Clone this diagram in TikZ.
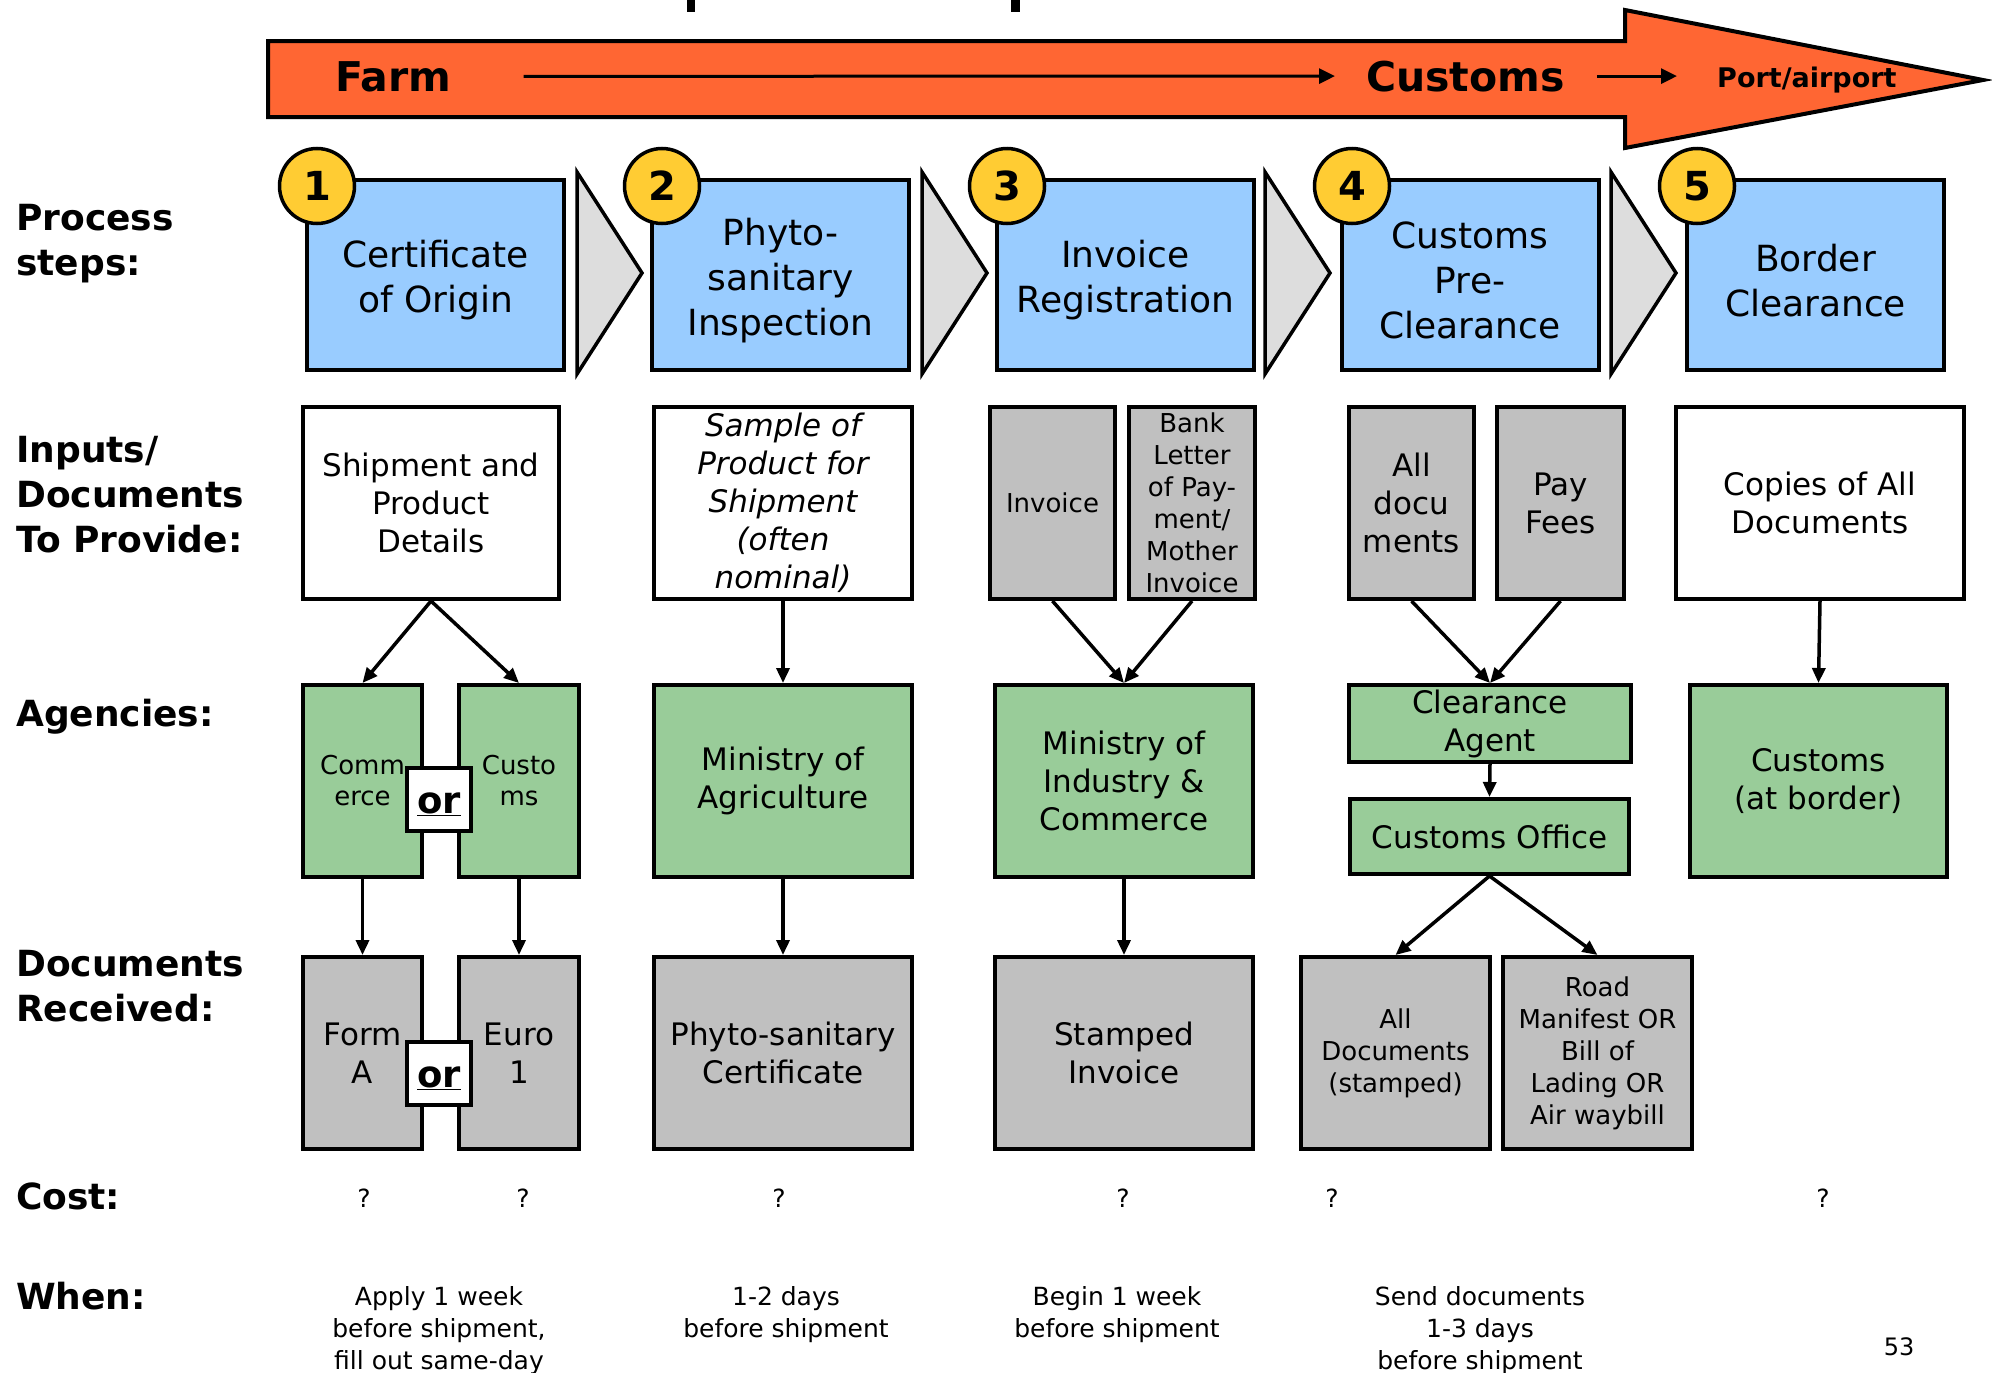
\documentclass[tikz,border=0pt]{standalone}
\usepackage{fontspec}
\setmainfont{DejaVu Sans}
\usetikzlibrary{arrows.meta,calc}

\definecolor{flowred}{HTML}{FF6633}
\definecolor{stepblue}{HTML}{99CCFF}
\definecolor{agencygreen}{HTML}{99CC99}
\definecolor{docgrey}{HTML}{C0C0C0}
\definecolor{chevgrey}{HTML}{DDDDDD}
\definecolor{dotyellow}{HTML}{FFCC33}

% font size and line skip in one go
\newcommand{\px}[2]{\fontsize{#1}{#2}\selectfont}
% taller first line, pushes the step text a little down
\newcommand{\stepgap}{\rule{0pt}{39pt}}

\tikzset{
  cell/.style={draw, line width=4pt, inner sep=0pt, align=center, minimum height=192pt},
  stepbox/.style={cell, fill=stepblue, minimum width=257pt, minimum height=190pt, font=\px{36}{45}},
  inbox/.style={cell, fill=white, font=\px{31}{38}},
  docbox/.style={cell, fill=docgrey, font=\px{31}{38}},
  agency/.style={cell, fill=agencygreen, font=\px{31}{38}},
  orbox/.style={cell, fill=white, minimum width=64pt, minimum height=63pt, font=\bfseries\px{37}{37},
    text height=30pt, text depth=2pt},
  numdot/.style={circle, draw, line width=3.5pt, fill=dotyellow, minimum size=75pt, inner sep=0pt, font=\bfseries\px{40}{40}},
  chevron/.style={draw, line width=3.5pt, fill=chevgrey},
  rowlabel/.style={anchor=west, align=left, inner sep=0pt, font=\bfseries\px{36}{45}},
  flowtxt/.style={inner sep=0pt, anchor=base west, font=\bfseries\px{41}{41}},
  flowline/.style={line width=3pt, -{Triangle[length=16pt,width=15pt]}},
  note/.style={inner sep=0pt, align=center, font=\px{25}{32}},
  link/.style={line width=3.5pt, -{Triangle[length=15pt,width=13pt]}},
}

\begin{document}
\begin{tikzpicture}[x=1pt,y=-1pt]
\useasboundingbox (0,0) rectangle (1992,1373);

% bits of the heading that reach into the page
\fill (687,0) rectangle (695,12);
\fill (1011,0) rectangle (1020,12);

% route arrow across the top
\draw[line width=4pt, fill=flowred] (268,41) -- (1625,41) -- (1625,10) -- (1983,80)
  -- (1625,148) -- (1625,117) -- (268,117) -- cycle;
\node[flowtxt] (farm) at (335,91) {Farm};
\node[flowtxt] (customs) at (1366,91) {Customs};
\node[flowtxt, font=\bfseries\px{27}{27}] (port) at (1717,87) {Port/airport};
\draw[flowline] ([xshift=72pt]farm.east) -- ([xshift=-31pt]customs.west);
\draw[flowline] ([xshift=32pt]customs.east) -- ([xshift=-40pt]customs.east -| port.west);

% row headings
\node[rowlabel] (lstep) at (16,244) {Process\\steps:};
\node[rowlabel] (linput) at (16,495) {Inputs/\\Documents\\To Provide:};
\node[rowlabel] (lagency) at (16,717) {Agencies:};
\node[rowlabel] (lrecv) at (16,986) {Documents\\Received:};
\node[rowlabel] (lcost) at (16,1196) {Cost:};
\node[rowlabel] (lwhen) at (16,1296) {When:};

% process steps
\node[stepbox] (s1) at (435.5,274.5) {\stepgap Certificate\\of Origin};
\node[stepbox] (s2) at (780.5,274.5) {\stepgap Phyto-\\sanitary\\Inspection};
\node[stepbox] (s3) at (1125.5,274.5) {\stepgap Invoice\\Registration};
\node[stepbox] (s4) at (1470,274.5) {\stepgap Customs\\Pre-\\Clearance};
\node[stepbox] (s5) at (1815.5,274.5) {\stepgap Border\\Clearance};
\foreach \x in {577,922,1265,1611}
  \draw[chevron] (\x,172) -- (\x+65,273) -- (\x,374) -- cycle;
\node[numdot] (n1) at (317,186) {1};
\node[numdot] (n2) at (662,186) {2};
\node[numdot] (n3) at (1007,186) {3};
\node[numdot] (n4) at (1352,186) {4};
\node[numdot] (n5) at (1697,186) {5};

% inputs / documents to provide
\node[inbox, minimum width=256pt] (ship) at (431,503) {Shipment and\\Product\\Details};
\node[inbox, minimum width=258pt, font=\itshape\px{31}{38}] (sample) at (783,503)
  {Sample of\\Product for\\Shipment\\(often\\nominal)};
\node[docbox, minimum width=125pt, font=\px{26}{32}] (inv) at (1052.5,503) {Invoice};
\node[docbox, minimum width=126pt, font=\px{26}{32}] (bank) at (1192,503)
  {Bank\\Letter\\of Pay-\\ment/\\Mother\\Invoice};
\node[docbox, minimum width=125pt] (alldocs) at (1411.5,503) {All\\docu\\ments};
\node[docbox, minimum width=127pt] (fees) at (1560.5,503) {Pay\\Fees};
\node[inbox, minimum width=288pt] (copies) at (1820,503) {Copies of All\\Documents};

% agencies
\node[agency, minimum width=119pt, font=\px{26}{31}] (comm) at (362.5,781) {Comm\\erce};
\node[agency, minimum width=120pt, font=\px{26}{31}] (cust) at (519,781) {Custo\\ms};
\node[orbox] (or1) at (439,799.5) {\underline{or}};
\node[agency, minimum width=258pt] (magri) at (783,781) {Ministry of\\Agriculture};
\node[agency, minimum width=258pt] (mind) at (1124,781) {Ministry of\\Industry \&\\Commerce};
\node[agency, minimum width=282pt, minimum height=77pt] (agent) at (1490,723.5) {Clearance\\Agent};
\node[agency, minimum width=279pt, minimum height=75pt] (office) at (1489.5,836.5) {Customs Office};
\node[agency, minimum width=257pt] (border) at (1818.5,781) {Customs\\(at border)};

% documents received
\node[docbox, minimum width=119pt] (forma) at (362.5,1053) {Form\\A};
\node[docbox, minimum width=120pt] (euro) at (519,1053) {Euro\\1};
\node[orbox] (or2) at (439,1073) {\underline{or}};
\node[docbox, minimum width=258pt] (phyto) at (783,1053) {Phyto-sanitary\\Certificate};
\node[docbox, minimum width=258pt] (stamped) at (1124,1053) {Stamped\\Invoice};
\node[docbox, minimum width=189pt, font=\px{26}{32}] (stampdocs) at (1395.5,1053)
  {All\\Documents\\(stamped)};
\node[docbox, minimum width=189pt, font=\px{26}{32}] (manifest) at (1597.5,1053)
  {Road\\Manifest OR\\Bill of\\Lading OR\\Air waybill};

% connectors
\draw[link] (ship.south) -- (comm.north);
\draw[link] (ship.south) -- (cust.north);
\draw[link] (sample.south) -- (magri.north);
\draw[link] (inv.south) -- (mind.north);
\draw[link] (bank.south) -- (mind.north);
\draw[link] (alldocs.south) -- (agent.north);
\draw[link] (fees.south) -- (agent.north);
\draw[link] (agent.south) -- (office.north);
\draw[link] (copies.south) -- (border.north);
\draw[link] (comm.south) -- (forma.north);
\draw[link] (cust.south) -- (euro.north);
\draw[link] (magri.south) -- (phyto.north);
\draw[link] (mind.south) -- (stamped.north);
\draw[link] (office.south) -- (stampdocs.north);
\draw[link] (office.south) -- (manifest.north);

% cost and timing
\foreach \x in {364,523,779,1123,1332,1823}
  \node[note] (cost\x) at (\x,1198) {?};
\node[note, anchor=north] (w1) at (439,1286) {Apply 1 week\\before shipment,\\fill out same-day};
\node[note, anchor=north] (w2) at (786,1286) {1-2 days\\before shipment};
\node[note, anchor=north] (w3) at (1117,1286) {Begin 1 week\\before shipment};
\node[note, anchor=north] (w4) at (1480,1286) {Send documents\\1-3 days\\before shipment};
\node[note, font=\px{24}{24}] (page) at (1899,1347) {53};
\end{tikzpicture}
\end{document}
